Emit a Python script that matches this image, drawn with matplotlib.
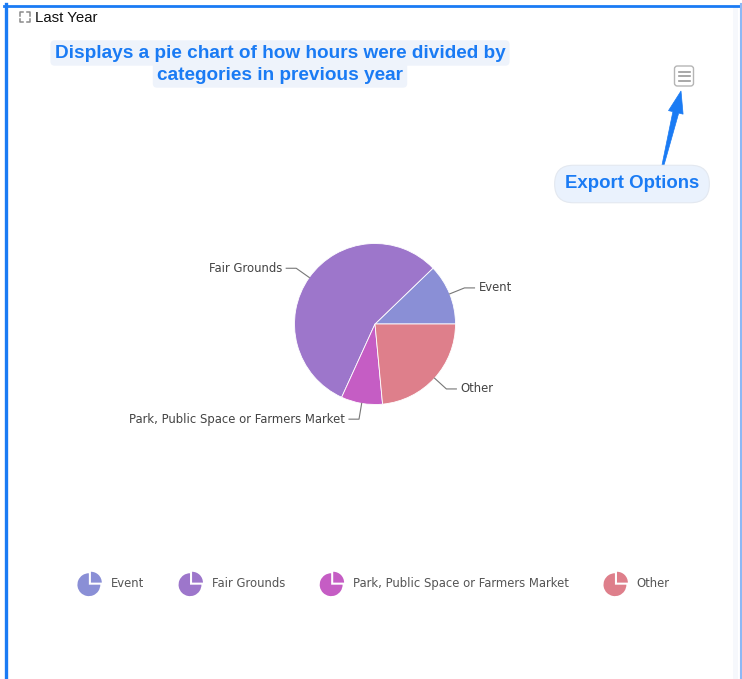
import matplotlib
matplotlib.use("Agg")
import matplotlib.pyplot as plt
import numpy as np
from matplotlib.patches import Wedge, Patch, FancyBboxPatch, Polygon, Rectangle
from matplotlib.legend_handler import HandlerBase
from matplotlib.lines import Line2D

# ---- data ----
categories = ["Event", "Fair Grounds", "Park, Public Space or Farmers Market", "Other"]
values = [12.2, 56.0, 8.3, 23.5]
colors = ["#8a8fd6", "#9d76cb", "#c55dc4", "#de7f8b"]
chart_title = "Last Year"
note_lines = ["Displays a pie chart of how hours were divided by", "categories in previous year"]
export_note = "Export Options"

W, H = 742, 679
fig = plt.figure(figsize=(W / 100, H / 100), dpi=100)
fig.patch.set_facecolor("white")


def fx(x):
    return x / W


def fy(y):
    return 1 - y / H


BLUE = "#1a7bf4"

# ---- pie axes placed by pixels ----
cx, cy, R = 375, 324, 80.5
aw, ah = 480, 300
ax = fig.add_axes([fx(cx - aw / 2), fy(cy + ah / 2), aw / W, ah / H])
wedges, _ = ax.pie(values, colors=colors, startangle=0, counterclock=True,
                   wedgeprops=dict(edgecolor="white", linewidth=0.6))
ax.set_xlim(-aw / 2 / R, aw / 2 / R)
ax.set_ylim(-ah / 2 / R, ah / 2 / R)
ax.set_aspect("equal", adjustable="box")
ax.axis("off")

ext = 16 / R
hlen = 10 / R
tpad = 4 / R
for w, lab in zip(wedges, categories):
    mid = np.deg2rad((w.theta1 + w.theta2) / 2)
    c, s = np.cos(mid), np.sin(mid)
    x0, y0 = w.r * c, w.r * s
    x1, y1 = (w.r + ext) * c, (w.r + ext) * s
    sgn = 1 if c >= 0 else -1
    x2 = x1 + sgn * hlen
    ax.plot([x0, x1, x2], [y0, y1, y1], color="#777777", lw=0.8, clip_on=False)
    ax.text(x2 + sgn * tpad, y1, lab, ha="left" if sgn > 0 else "right", va="center",
            fontsize=8.4, color="#444444", family="DejaVu Sans")


# ---- legend with pie icons ----
class PieIcon(HandlerBase):
    def create_artists(self, legend, orig_handle, xdescent, ydescent, width, height, fontsize, trans):
        ccx = width / 2 - xdescent
        ccy = height / 2 - ydescent
        r = min(width, height) / 2 * 0.95
        col = orig_handle.get_facecolor()
        off = r * 0.12
        big = Wedge((ccx - off / 2, ccy - off / 2), r, 90, 360, facecolor=col, edgecolor="none", transform=trans)
        small = Wedge((ccx + off, ccy + off), r * 0.95, 0, 90, facecolor=col, edgecolor="none", transform=trans)
        return [big, small]


handles = [Patch(facecolor=c) for c in colors]
fig.legend(handles, categories, loc="center", bbox_to_anchor=(fx(372), fy(584)), ncol=4,
           frameon=False, fontsize=8.4, handlelength=2.6, handleheight=2.8,
           handletextpad=0.5, columnspacing=2.72, labelcolor="#555555",
           handler_map={Patch: PieIcon()})

# ---- frame ----
fig.add_artist(Line2D([fx(5.5), fx(5.5)], [fy(4), fy(679)], color=BLUE, lw=2.4, transform=fig.transFigure))
fig.add_artist(Line2D([fx(4), fx(742)], [fy(5.5), fy(5.5)], color=BLUE, lw=2.0, transform=fig.transFigure))
fig.add_artist(Line2D([fx(740.5), fx(740.5)], [fy(4), fy(679)], color="#8db8f5", lw=1.5, transform=fig.transFigure))
fig.add_artist(Rectangle((fx(733), 0), 5 / W, fy(7), color="#f6f8fc", transform=fig.transFigure, lw=0))

# ---- title with expand icon ----
ic = "#8a8a8a"
x0i, y0i, x1i, y1i, L = 20, 12, 30, 22, 3.5
for (px, py, dx, dy) in [(x0i, y0i, 1, 1), (x1i, y0i, -1, 1), (x0i, y1i, 1, -1), (x1i, y1i, -1, -1)]:
    fig.add_artist(Line2D([fx(px), fx(px), fx(px + dx * L)], [fy(py + dy * L), fy(py), fy(py)],
                          color=ic, lw=1.1, transform=fig.transFigure))
renderer = fig.canvas.get_renderer()


def fit(t, target_w):
    bb = t.get_window_extent(renderer)
    t.set_fontsize(t.get_fontsize() * target_w / bb.width)


t = fig.text(fx(35), fy(17.5), chart_title, ha="left", va="center", fontsize=10.5,
             family="Liberation Sans", color="#111111")
fit(t, 63)

# ---- blue annotations ----
for line, ycen, tw in zip(note_lines, [53, 75], [450, 246]):
    t = fig.text(fx(280), fy(ycen), line, ha="center", va="center", fontsize=13,
                 family="Liberation Sans", fontweight="bold", color=BLUE,
                 bbox=dict(boxstyle="round,pad=0.22", fc="#eef3fb", ec="none"))
    fit(t, tw)

t = fig.text(fx(632), fy(184), export_note, ha="center", va="center", fontsize=12,
             family="Liberation Sans", fontweight="bold", color=BLUE,
             bbox=dict(boxstyle="round,pad=0.55,rounding_size=1.0", fc="#eaf2fd", ec="#e3e8f0", lw=0.8))
fit(t, 134)

# ---- menu icon ----
fig.add_artist(FancyBboxPatch((fx(674.5), fy(86)), 19 / W, 20 / H,
                              boxstyle="round,pad=0,rounding_size=0.004",
                              fc="white", ec="#b5b5b5", lw=1.0, transform=fig.transFigure))
for yy in [71.5, 76, 80.5]:
    fig.add_artist(Line2D([fx(679), fx(689.5)], [fy(yy), fy(yy)], color="#9a9a9a", lw=1.2,
                          transform=fig.transFigure))

# ---- tapered arrow (pixel geometry) ----
base = np.array([663.0, 165.0])
tip = np.array([681.0, 91.0])
d = tip - base
Ltot = np.hypot(*d)
u = d / Ltot
n = np.array([-u[1], u[0]])
head_len, head_w, w0, w1 = 22.0, 15.0, 2.0, 6.0
hb = tip - u * head_len
pts = [base + n * w0 / 2, hb + n * w1 / 2, hb + n * head_w / 2, tip,
       hb - n * head_w / 2, hb - n * w1 / 2, base - n * w0 / 2]
pts_fig = [(fx(p[0]), fy(p[1])) for p in pts]
fig.add_artist(Polygon(pts_fig, closed=True, fc=BLUE, ec=BLUE, lw=0.5, transform=fig.transFigure))

fig.savefig("out.png", dpi=100, facecolor="white")
